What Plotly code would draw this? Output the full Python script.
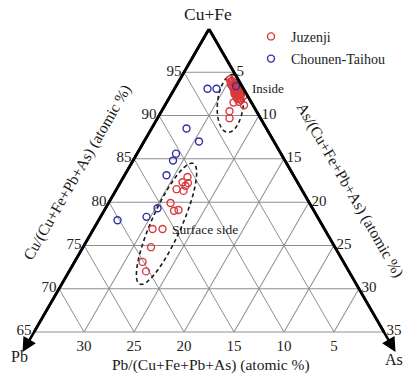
import numpy as np
import plotly.graph_objects as go

# Compositions in atomic %: Cu+Fe and As read per analysis spot; Pb closes the sum.
juzenji_cufe = [94.2, 94.0, 93.9, 93.8, 93.8, 93.7, 93.6, 93.6, 93.5, 93.4, 93.3, 93.2,
                93.1, 93.0, 93.0, 92.9, 92.9, 92.8, 92.7, 92.6, 92.6, 92.5, 92.4, 92.4,
                92.3, 92.3, 92.2, 92.1, 92.0, 91.9, 91.8, 91.6, 91.5, 91.2, 90.5, 89.7,
                82.9, 82.3, 82.2, 81.9, 81.5, 81.3, 79.9, 79.0, 79.1, 76.9, 76.9,
                74.8, 73.1, 72.0]
juzenji_as = [5.0, 5.3, 5.2, 5.5, 5.9, 5.7, 5.4, 5.9, 6.0, 5.6, 5.8, 6.1,
              5.9, 6.1, 6.4, 6.3, 6.6, 6.5, 6.2, 6.9, 6.5, 6.3, 6.5, 7.0,
              7.3, 6.9, 6.8, 6.7, 7.1, 6.9, 7.3, 7.2, 6.7, 7.9, 6.8, 7.2,
              6.4, 6.2, 6.8, 6.7, 6.0, 6.8, 6.2, 7.0, 7.4, 5.9, 6.9,
              6.8, 6.8, 7.7]

chounen_cufe = [93.1, 93.1, 93.4, 88.5, 87.0, 85.6, 84.8, 83.1, 79.3, 78.3, 77.9]
chounen_as = [3.3, 4.2, 6.0, 3.5, 5.5, 3.9, 4.0, 4.2, 5.2, 4.6, 1.9]

juzenji_pb = [round(100 - a - c, 2) for a, c in zip(juzenji_cufe, juzenji_as)]
chounen_pb = [round(100 - a - c, 2) for a, c in zip(chounen_cufe, chounen_as)]

a_ticks = [65, 70, 75, 80, 85, 90, 95]
b_ticks = [5, 10, 15, 20, 25, 30]
c_ticks = [5, 10, 15, 20, 25, 30, 35]

A_MIN = 65
RED = "#d8393b"
BLUE = "#2f2fa6"
GRID = "#8e8e8e"
FONT = "Liberation Serif"


def ellipse(cufe, as_, semi_major, semi_minor, angle_deg, n=160):
    """Closed ellipse given in triangle units, returned as (a, b, c)."""
    x0 = as_ + (cufe - A_MIN) / 2
    y0 = (cufe - A_MIN) * np.sqrt(3) / 2
    t = np.linspace(0, 2 * np.pi, n)
    th = np.radians(angle_deg)
    x = x0 + semi_major * np.cos(t) * np.cos(th) - semi_minor * np.sin(t) * np.sin(th)
    y = y0 + semi_major * np.cos(t) * np.sin(th) + semi_minor * np.sin(t) * np.cos(th)
    a = A_MIN + y * 2 / np.sqrt(3)
    c = x - (a - A_MIN) / 2
    b = np.clip(100 - a - c, 0.02, None)
    c = 100 - a - b
    return a, b, c


fig = go.Figure()

for (ca, cc), sa, sb, ang in [((91.4, 6.45), 2.9, 1.3, 84), ((77.5, 7.0), 6.6, 1.5, 66)]:
    ea, eb, ec = ellipse(ca, cc, sa, sb, ang)
    fig.add_trace(go.Scatterternary(
        a=ea, b=eb, c=ec, mode="lines", showlegend=False, hoverinfo="skip",
        line=dict(color="#1a1a1a", width=1.6, dash="4px,3px")))

fig.add_trace(go.Scatterternary(
    a=juzenji_cufe, b=juzenji_pb, c=juzenji_as, mode="markers", name="Juzenji",
    legendgroup="juzenji",
    marker=dict(symbol="circle-open", size=7, color=RED, line=dict(width=1.4, color=RED))))
fig.add_trace(go.Scatterternary(
    a=chounen_cufe, b=chounen_pb, c=chounen_as, mode="markers", name="Chounen-Taihou",
    legendgroup="chounen",
    marker=dict(symbol="circle-open", size=7, color=BLUE, line=dict(width=1.4, color=BLUE))))

axis_common = dict(ticks="", showgrid=True, gridcolor=GRID, gridwidth=1,
                   tickfont=dict(family=FONT, size=15, color="#222"), tickangle=0,
                   title=dict(text=""))

fig.update_layout(
    width=414, height=374,
    margin=dict(l=34, r=30, t=29, b=42),
    paper_bgcolor="white",
    font=dict(family=FONT, color="#222"),
    ternary=dict(
        sum=100,
        bgcolor="white",
        aaxis=dict(min=A_MIN, tickvals=a_ticks, linecolor="black", linewidth=2.6, **axis_common),
        baxis=dict(min=0, tickvals=b_ticks, linecolor=GRID, linewidth=1, **axis_common),
        caxis=dict(min=0, tickvals=c_ticks, linecolor="black", linewidth=2.6, **axis_common),
    ),
    legend=dict(x=0.62, y=1.027, xanchor="left", yanchor="top", bgcolor="rgba(0,0,0,0)",
                font=dict(family=FONT, size=14, color="#222"), itemwidth=30,
                tracegroupgap=1),
)


def px_x(x):
    return (x - 34) / 350


def px_y(y):
    return (332 - y) / 303


labels = [
    ("Cu+Fe", 208, 14, 17.5, 0),
    ("Pb", 19, 356, 16, 0),
    ("As", 394, 359, 16, 0),
    ("Pb/(Cu+Fe+Pb+As) (atomic %)", 211, 365, 15.5, 0),
    ("Cu/(Cu+Fe+Pb+As) (atomic %)", 77, 173, 15.5, -60),
    ("As/(Cu+Fe+Pb+As) (atomic %)", 350, 190, 15.5, 60),
    ("Inside", 268, 88, 13, 0),
    ("Surface side", 205, 229, 13.5, 0),
]
for text, x, y, size, ang in labels:
    fig.add_annotation(x=px_x(x), y=px_y(y), xref="paper", yref="paper", text=text,
                       showarrow=False, textangle=ang, xanchor="center", yanchor="middle",
                       font=dict(family=FONT, size=size, color="#1a1a1a"))

# Arrowheads extending the Cu+Fe edges toward the Pb and As corners
for tip_x, tip_y in [(22.5, 352), (395.5, 352)]:
    fig.add_annotation(x=px_x(tip_x), y=px_y(tip_y), xref="paper", yref="paper",
                       ax=209 - tip_x, ay=29 - tip_y, text="", showarrow=True,
                       arrowhead=2, arrowsize=1.1, arrowwidth=2.6, arrowcolor="black",
                       standoff=0, startstandoff=0)

fig.write_html("out.html")
